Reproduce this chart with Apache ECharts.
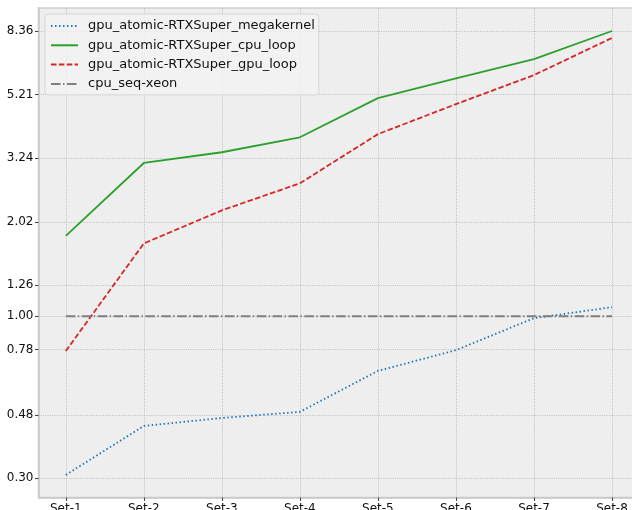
<!DOCTYPE html>
<html>
<head>
<meta charset="utf-8">
<script src="https://cdn.jsdelivr.net/npm/echarts@6/dist/echarts.min.js"></script>
<style>
  html, body { margin: 0; padding: 0; background: #fff; }
  #chart { width: 632px; height: 510px; }
</style>
</head>
<body>
<div id="chart"></div>
<script>
var categories = ['Set-1', 'Set-2', 'Set-3', 'Set-4', 'Set-5', 'Set-6', 'Set-7', 'Set-8'];
var megakernel = [0.307, 0.442, 0.469, 0.491, 0.666, 0.777, 0.986, 1.07];
var cpuLoop = [1.82, 3.13, 3.39, 3.79, 5.07, 5.88, 6.78, 8.36];
var gpuLoop = [0.772, 1.72, 2.20, 2.69, 3.88, 4.85, 6.02, 7.94];
var cpuSeq = [1.0, 1.0, 1.0, 1.0, 1.0, 1.0, 1.0, 1.0];
var yTicks = [0.30, 0.48, 0.78, 1.00, 1.26, 2.02, 3.24, 5.21, 8.36];

var seriesNames = [
    'gpu_atomic-RTXSuper_megakernel',
    'gpu_atomic-RTXSuper_cpu_loop',
    'gpu_atomic-RTXSuper_gpu_loop',
    'cpu_seq-xeon'
];
var seriesColors = ['#1f77b4', '#2ca02c', '#d62728', '#7f7f7f'];
var seriesDash = [[1.5, 2.5], 'solid', [5.5, 2.4], [9.6, 2.4, 1.5, 2.4]];
var seriesValues = [megakernel, cpuLoop, gpuLoop, cpuSeq];

function toPoints(arr) {
    return arr.map(function (v, i) { return [i, v]; });
}

var chart = echarts.init(document.getElementById('chart'));
var font = 'DejaVu Sans';

var series = [];
for (var i = 0; i < seriesNames.length; i++) {
    series.push({
        name: seriesNames[i],
        type: 'line',
        data: toPoints(seriesValues[i]),
        symbol: 'none',
        color: seriesColors[i],
        lineStyle: { width: 1.8, type: seriesDash[i], color: seriesColors[i] },
        animation: false
    });
}

var xTickVals = categories.map(function (c, i) { return i; });

chart.setOption({
    animation: false,
    backgroundColor: '#ffffff',
    grid: {
        left: 38.5, top: 8, right: -7.3, bottom: 12.5,
        outerBoundsMode: 'none',
        show: true, backgroundColor: '#eeeeee', borderColor: '#cfcfcf', borderWidth: 1.5
    },
    legend: {
        orient: 'vertical',
        left: 45, top: 14,
        padding: [5, 4, 4, 5],
        itemWidth: 27, itemHeight: 14, itemGap: 5.3,
        itemStyle: { opacity: 0 },
        backgroundColor: 'rgba(242,242,242,0.8)',
        borderColor: '#d6d6d6', borderWidth: 1, borderRadius: 3,
        textStyle: { fontFamily: font, fontSize: 13, color: '#111', padding: [0, 0, 0, 5], lineHeight: 14 },
        data: seriesNames
    },
    xAxis: {
        type: 'value',
        min: -0.35, max: 7.35,
        axisLine: { show: true, onZero: false, lineStyle: { color: '#c8c8c8', width: 1.5 } },
        axisTick: { show: true, length: 3.5, customValues: xTickVals, lineStyle: { color: '#444', width: 1 } },
        axisLabel: {
            customValues: xTickVals, margin: 5,
            fontFamily: font, fontSize: 12, color: '#111',
            formatter: function (v) { return categories[Math.round(v)]; }
        },
        splitLine: { show: true, lineStyle: { color: '#b2b2b2', width: 0.8, type: [1, 1.3] } }
    },
    yAxis: {
        type: 'log',
        logBase: 10,
        min: 0.2595, max: 9.92,
        axisLine: { show: true, onZero: false, lineStyle: { color: '#c8c8c8', width: 1.5 } },
        axisTick: { show: true, length: 3.5, customValues: yTicks, lineStyle: { color: '#444', width: 1 } },
        axisLabel: {
            customValues: yTicks, margin: 5,
            fontFamily: font, fontSize: 12, color: '#111',
            formatter: function (v) { return Number(v).toFixed(2); }
        },
        splitLine: { show: true, lineStyle: { color: '#b2b2b2', width: 0.8, type: [1, 1.3] } },
        minorSplitLine: { show: false }
    },
    series: series
});
</script>
</body>
</html>
